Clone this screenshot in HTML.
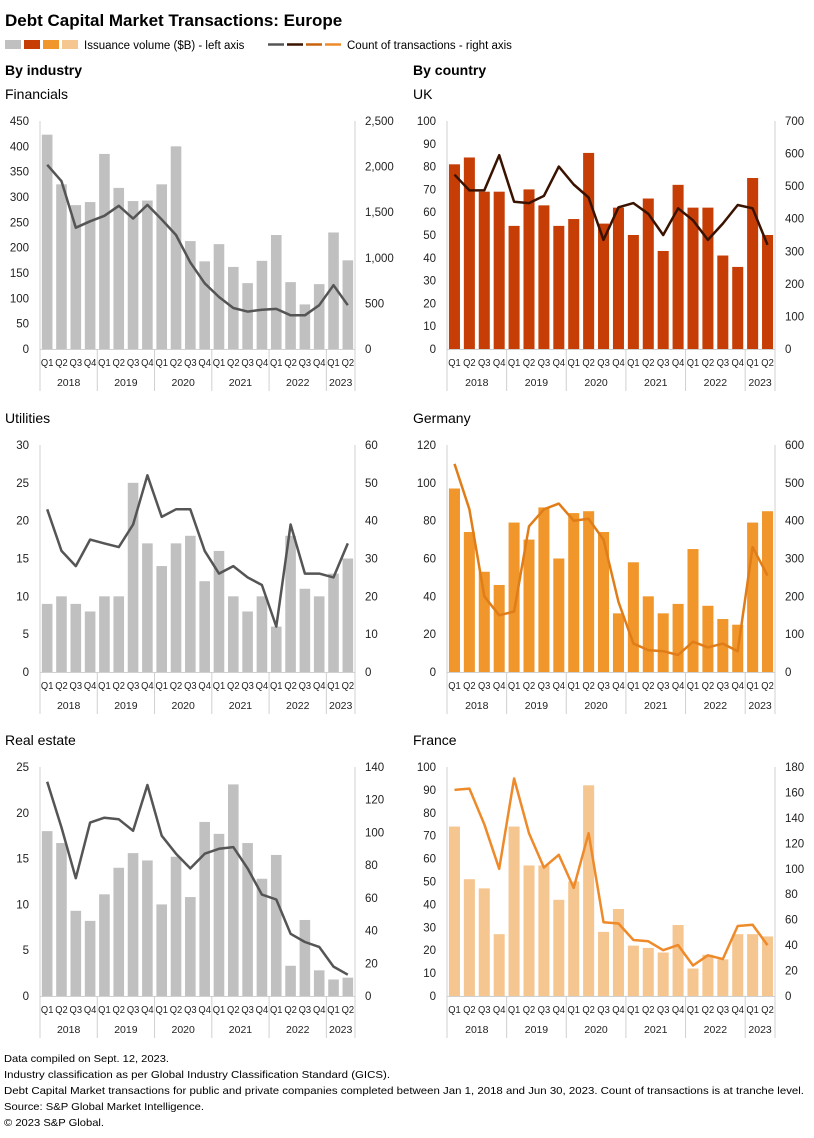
<!DOCTYPE html>
<html><head><meta charset="utf-8"><style>
html,body{margin:0;padding:0;background:#fff;}
svg{display:block;font-family:"Liberation Sans",sans-serif;}
</style></head><body>
<svg id="chart" width="814" height="1138" viewBox="0 0 814 1138" xmlns="http://www.w3.org/2000/svg">
<text x="5" y="26" font-size="17" font-weight="bold" fill="#000">Debt Capital Market Transactions: Europe</text>
<g>
<rect x="5" y="40" width="16" height="9" fill="#c0c0c0"/><rect x="24" y="40" width="16" height="9" fill="#c63d05"/><rect x="43" y="40" width="16" height="9" fill="#f0962a"/><rect x="62" y="40" width="16" height="9" fill="#f5c690"/>
<text x="84" y="49" font-size="11.5">Issuance volume ($B) - left axis</text>
<line x1="268" y1="44.5" x2="284" y2="44.5" stroke="#555" stroke-width="2.5"/><line x1="287" y1="44.5" x2="303" y2="44.5" stroke="#3a1200" stroke-width="2.5"/><line x1="306" y1="44.5" x2="322" y2="44.5" stroke="#c9620e" stroke-width="2.5"/><line x1="325" y1="44.5" x2="341" y2="44.5" stroke="#ee8a2a" stroke-width="2.5"/>
<text x="347" y="49" font-size="11.5">Count of transactions - right axis</text>
</g>
<text x="5" y="75" font-size="14" font-weight="bold">By industry</text>
<text x="413" y="75" font-size="14" font-weight="bold">By country</text>
<g font-size="10.5" fill="#000">
<text x="4" y="1062" textLength="165" lengthAdjust="spacingAndGlyphs">Data compiled on Sept. 12, 2023.</text>
<text x="4" y="1078" textLength="386" lengthAdjust="spacingAndGlyphs">Industry classification as per Global Industry Classification Standard (GICS).</text>
<text x="4" y="1094" textLength="800" lengthAdjust="spacingAndGlyphs">Debt Capital Market transactions for public and private companies completed between Jan 1, 2018 and Jun 30, 2023. Count of transactions is at tranche level.</text>
<text x="4" y="1110" textLength="200" lengthAdjust="spacingAndGlyphs">Source: S&amp;P Global Market Intelligence.</text>
<text x="4" y="1126" textLength="100" lengthAdjust="spacingAndGlyphs">© 2023 S&amp;P Global.</text>
</g>
</svg>
<script>
const quarters = ["Q1","Q2","Q3","Q4","Q1","Q2","Q3","Q4","Q1","Q2","Q3","Q4","Q1","Q2","Q3","Q4","Q1","Q2","Q3","Q4","Q1","Q2"];
const years = ["2018","2019","2020","2021","2022","2023"];
const finBars = [423,325,284,290,385,318,292,293,325,400,213,173,207,162,130,174,225,132,88,128,230,175];
const finLine = [2020,1840,1330,1400,1460,1570,1430,1580,1420,1250,950,720,570,450,410,430,440,370,370,480,700,480];
const ukBars = [81,84,69,69,54,70,63,54,57,86,55,62,50,66,43,72,62,62,41,36,75,50];
const ukLine = [535,487,487,595,452,448,470,560,505,465,335,435,448,415,350,432,395,335,385,442,432,320];
const utBars = [9,10,9,8,10,10,25,17,14,17,18,12,16,10,8,10,6,18,11,10,13,15];
const utLine = [43,32,28,35,34,33,39,52,41,43,43,32,26,28,25,23,12,39,26,26,25,34];
const deBars = [97,74,53,46,79,70,87,60,84,85,74,31,58,40,31,36,65,35,28,25,79,85];
const deLine = [550,430,200,150,160,385,430,445,400,405,350,185,75,58,55,45,80,65,75,55,330,255];
const reBars = [18,16.7,9.3,8.2,11.1,14,15.6,14.8,10,15.2,10.8,19,17.7,23.1,16.7,12.8,15.4,3.3,8.3,2.8,1.8,2.0];
const reLine = [131,103,72,106,109,108,101,129,98,87,78,87,90,91,78,62,59,38,33,30,18,13];
const frBars = [74,51,47,27,74,57,57,42,50,92,28,38,22,21,19,31,12,18,16,27,27,26];
const frLine = [162,163,135,100,171,128,101,111,85,128,58,57,44,43,36,40,24,32,29,55,56,40];
const finLeftTicks = [0,50,100,150,200,250,300,350,400,450];
const finRightTicks = [0,500,1000,1500,2000,2500];
const ukLeftTicks = [0,10,20,30,40,50,60,70,80,90,100];
const ukRightTicks = [0,100,200,300,400,500,600,700];
const utLeftTicks = [0,5,10,15,20,25,30];
const utRightTicks = [0,10,20,30,40,50,60];
const deLeftTicks = [0,20,40,60,80,100,120];
const deRightTicks = [0,100,200,300,400,500,600];
const reLeftTicks = [0,5,10,15,20,25];
const reRightTicks = [0,20,40,60,80,100,120,140];
const frLeftTicks = [0,10,20,30,40,50,60,70,80,90,100];
const frRightTicks = [0,20,40,60,80,100,120,140,160,180];

const NS = "http://www.w3.org/2000/svg";
const svg = document.getElementById("chart");
function mk(tag, attrs, parent){ const e=document.createElementNS(NS,tag); for(const k in attrs) e.setAttribute(k,attrs[k]); (parent||svg).appendChild(e); return e; }
function fmt(v){ return v>=1000 ? v.toLocaleString("en-US") : String(v); }

function panel(o){
  const g = mk("g",{});
  
  
  const t = mk("text",{x:o.titleX,y:o.top-22,"font-size":14},g); t.textContent=o.title;
  
  
  const x0=o.x0, x1=o.x1, yb=o.bottom, yt=o.top;
  const n=quarters.length, step=(x1-x0)/n;
  const lmax=o.lt[o.lt.length-1], rmax=o.rt[o.rt.length-1];
  const yL=v=>yb-(v/lmax)*(yb-yt);
  const yR=v=>yb-(v/rmax)*(yb-yt);
  const xC=i=>x0+step*(i+0.5);
  mk("line",{x1:x0,y1:yt,x2:x0,y2:yb,stroke:"#d0d0d0","stroke-width":1},g);
  mk("line",{x1:x1,y1:yt,x2:x1,y2:yb,stroke:"#d0d0d0","stroke-width":1},g);
  o.lt.forEach(v=>{ const e=mk("text",{x:x0-11,y:yL(v)+4,"font-size":11.5,"text-anchor":"end",fill:"#222"},g); e.textContent=fmt(v);
      });
  o.rt.forEach(v=>{ const e=mk("text",{x:x1+10,y:yR(v)+4,"font-size":11.5,fill:"#222"},g); e.textContent=fmt(v);
      });
  const bw=step*0.74;
  o.bars.forEach((v,i)=>{ const r=mk("rect",{x:xC(i)-bw/2,y:yL(v),width:bw,height:yb-yL(v),fill:o.barColor},g);
    
     });
  mk("line",{x1:x0,y1:yb+0.5,x2:x1,y2:yb+0.5,stroke:"#d0d0d0","stroke-width":1},g);
  const pts=o.line.map((v,i)=>xC(i).toFixed(1)+","+yR(v).toFixed(1)).join(" ");
  const pl=mk("polyline",{points:pts,fill:"none",stroke:o.lineColor,"stroke-width":2.5,"stroke-linejoin":"round"},g);
  
  
  quarters.forEach((q,i)=>{ const e=mk("text",{x:xC(i),y:yb+17,"font-size":10,"text-anchor":"middle",fill:"#222",textLength:12.5,lengthAdjust:"spacingAndGlyphs"},g); e.textContent=q;
      });
  for(let k=0;k<=years.length;k++){
    const idx=Math.min(k*4,n); const xx=x0+step*idx;
    mk("line",{x1:xx,y1:yb,x2:xx,y2:yb+42,stroke:"#d0d0d0","stroke-width":1},g);
  }
  years.forEach((y,k)=>{ const s=k*4, e2=Math.min(s+4,n); const xm=x0+step*(s+e2)/2;
    const e=mk("text",{x:xm,y:yb+37,"font-size":10.5,"text-anchor":"middle",fill:"#222"},g); e.textContent=y;
      });
}
const L={x0:40,x1:355,titleX:5}, R={x0:447,x1:775,titleX:413};
panel({name:"financials-panel",title:"Financials",...L,top:121,bottom:349,bars:finBars,line:finLine,lt:finLeftTicks,rt:finRightTicks,barColor:"#c0c0c0",lineColor:"#555"});
panel({name:"uk-panel",title:"UK",...R,top:121,bottom:349,bars:ukBars,line:ukLine,lt:ukLeftTicks,rt:ukRightTicks,barColor:"#c63d05",lineColor:"#3a1200"});
panel({name:"utilities-panel",title:"Utilities",...L,top:445,bottom:672,bars:utBars,line:utLine,lt:utLeftTicks,rt:utRightTicks,barColor:"#c0c0c0",lineColor:"#555"});
panel({name:"germany-panel",title:"Germany",...R,top:445,bottom:672,bars:deBars,line:deLine,lt:deLeftTicks,rt:deRightTicks,barColor:"#f0962a",lineColor:"#e07d18"});
panel({name:"real-estate-panel",title:"Real estate",...L,top:767,bottom:996,bars:reBars,line:reLine,lt:reLeftTicks,rt:reRightTicks,barColor:"#c0c0c0",lineColor:"#555"});
panel({name:"france-panel",title:"France",...R,top:767,bottom:996,bars:frBars,line:frLine,lt:frLeftTicks,rt:frRightTicks,barColor:"#f5c690",lineColor:"#ee8a2a"});
</script>
</body></html>
